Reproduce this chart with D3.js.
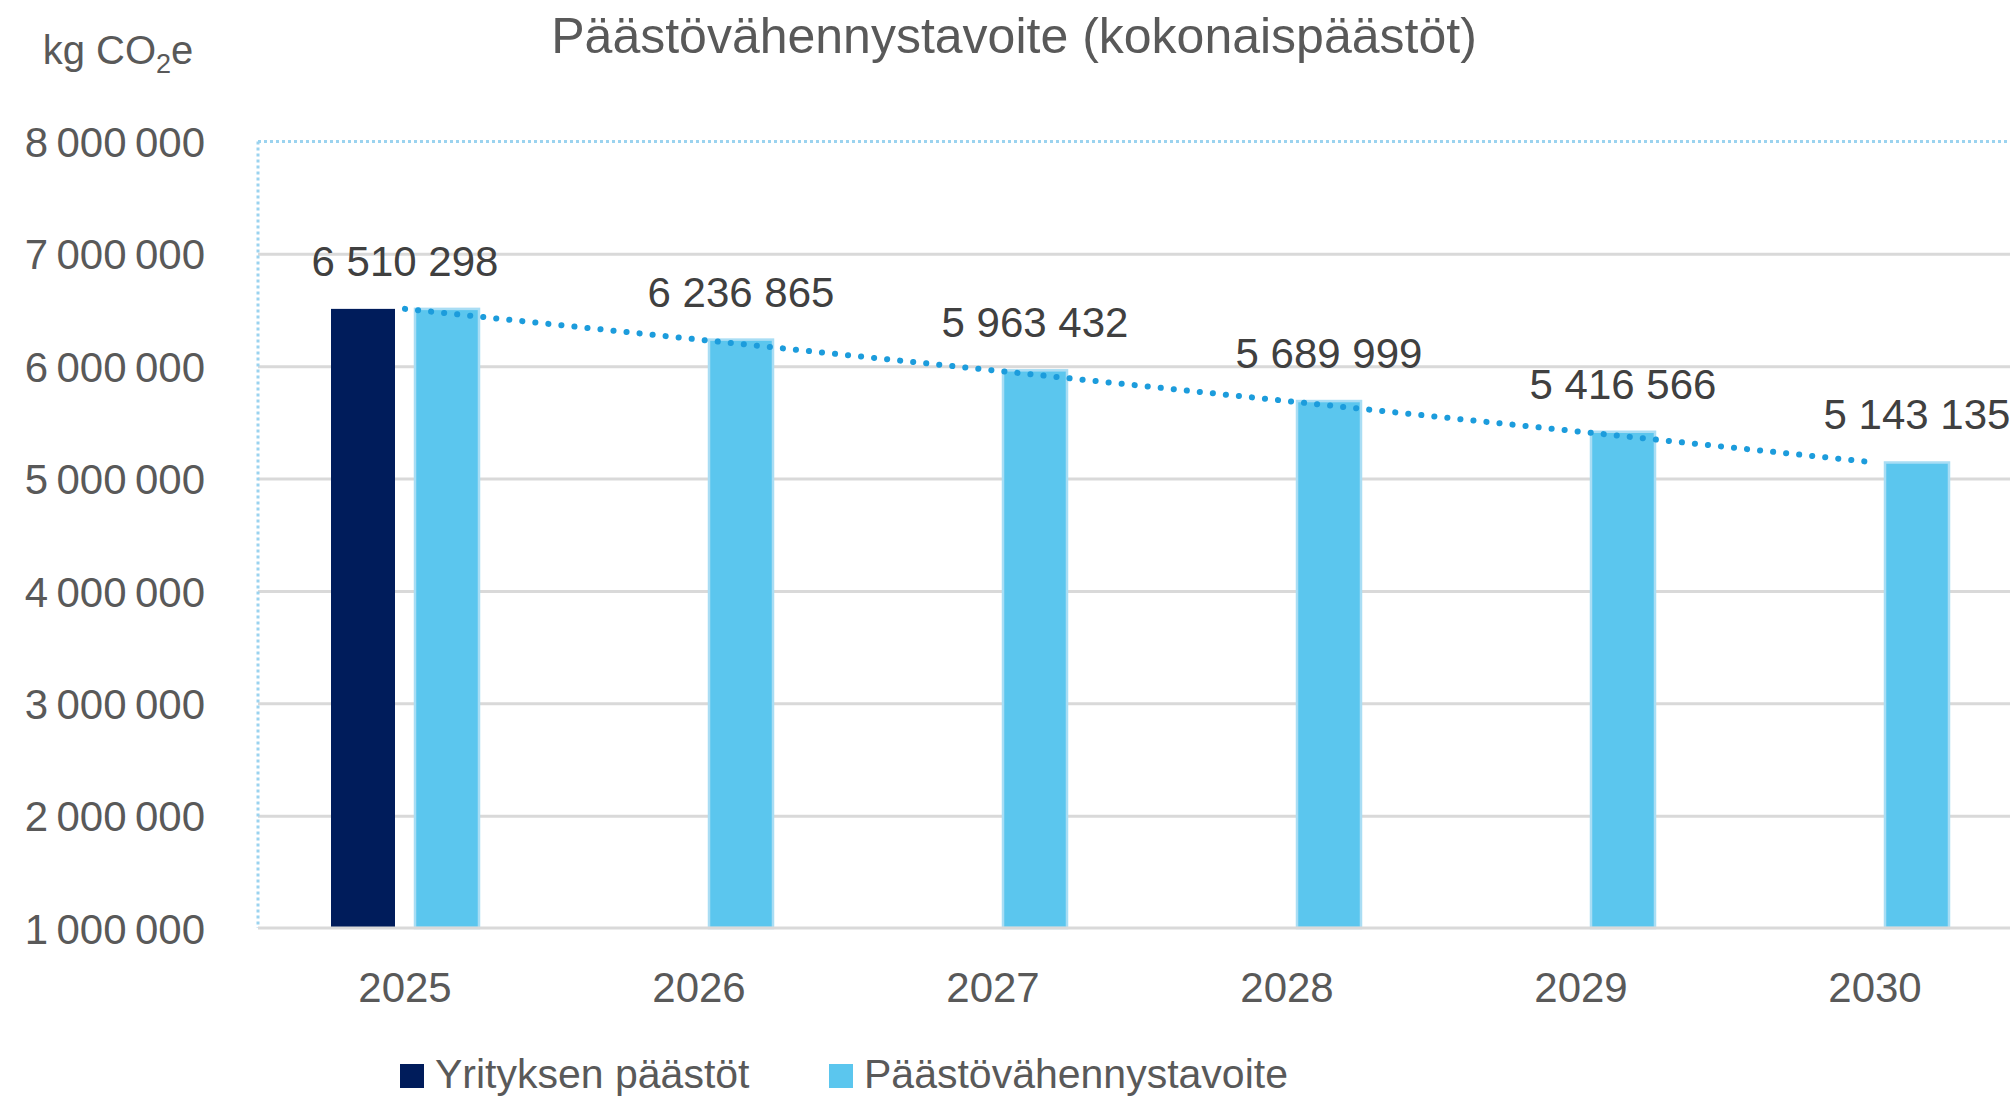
<!DOCTYPE html>
<html>
<head>
<meta charset="utf-8">
<script src="https://cdn.jsdelivr.net/npm/d3@7"></script>
<style>
  html, body { margin: 0; padding: 0; background: #ffffff; }
  svg { display: block; }
  text { font-family: "Liberation Sans", Arial, sans-serif; }
</style>
</head>
<body>
<svg id="chart" width="2010" height="1098"></svg>
<script>
// ---- data ----
const categories = ["2025", "2026", "2027", "2028", "2029", "2030"];
const companyEmissions = [6510298, null, null, null, null, null];
const reductionTarget = [6510298, 6236865, 5963432, 5689999, 5416566, 5143135];
const yTicks = [1000000, 2000000, 3000000, 4000000, 5000000, 6000000, 7000000, 8000000];
const seriesNames = ["Yrityksen päästöt", "Päästövähennystavoite"];
const titleText = "Päästövähennystavoite (kokonaispäästöt)";

// ---- layout ----
const W = 2010, H = 1098;
const plot = { left: 258, right: 2022, top: 141.5, bottom: 928 };
const colors = { dark: "#001C5B", light: "#5BC6EE", lightEdge: "#A9DDF4", trend: "#1C9CDC",
                 grid: "#D9D9D9", axisText: "#595959", labelText: "#404040", border: "#9BD3EF" };

const svg = d3.select("#chart");
const fiLocale = d3.formatLocale({ decimal: ",", thousands: "\u00a0", grouping: [3], currency: ["", " €"] });
const fmt = fiLocale.format(",d");
const fmtAxis = d3.formatLocale({ decimal: ",", thousands: "\u2009", grouping: [3], currency: ["", " €"] }).format(",d");

const x = d3.scaleBand().domain(categories).range([plot.left, plot.right]).paddingInner(0).paddingOuter(0);
const groupWidth = 148;
const xs = d3.scaleBand().domain(seriesNames).range([-groupWidth / 2, groupWidth / 2]).paddingInner(20 / 84).paddingOuter(0);
const y = d3.scaleLinear().domain([1000000, 8000000]).range([plot.bottom, plot.top]);

// gridlines
const yAxisGrid = d3.axisLeft(y).tickValues(yTicks.filter(v => v > 1000000 && v < 8000000))
  .tickSize(-(plot.right - plot.left)).tickFormat("");
const gGrid = svg.append("g").attr("transform", `translate(${plot.left},0)`).call(yAxisGrid);
gGrid.select(".domain").remove();
gGrid.selectAll("line").attr("stroke", colors.grid).attr("stroke-width", 3);

// plot-area dotted border (top + left)
svg.append("line").attr("x1", plot.left).attr("x2", plot.right).attr("y1", plot.top).attr("y2", plot.top)
  .attr("stroke", colors.border).attr("stroke-width", 3).attr("stroke-dasharray", "3 3");
svg.append("line").attr("x1", plot.left).attr("x2", plot.left).attr("y1", plot.top).attr("y2", plot.bottom)
  .attr("stroke", colors.border).attr("stroke-width", 3).attr("stroke-dasharray", "3 3");

// y axis labels
const yAxis = d3.axisLeft(y).tickValues(yTicks).tickSize(0).tickPadding(0).tickFormat(fmtAxis);
const gY = svg.append("g").attr("transform", `translate(205,0)`).call(yAxis);
gY.select(".domain").remove();
gY.selectAll("text").attr("fill", colors.axisText).style("font-size", "42px")
  .style("font-family", "'Liberation Sans', Arial, sans-serif").attr("dy", "0.36em");

// bars
const barData = [];
categories.forEach((c, i) => {
  if (companyEmissions[i] != null) barData.push({ cat: c, s: seriesNames[0], v: companyEmissions[i] });
  if (reductionTarget[i] != null) barData.push({ cat: c, s: seriesNames[1], v: reductionTarget[i] });
});
svg.append("g").selectAll("rect").data(barData).join("rect")
  .attr("x", d => x(d.cat) + x.bandwidth() / 2 + xs(d.s))
  .attr("width", xs.bandwidth())
  .attr("y", d => y(d.v))
  .attr("height", d => y(1000000) - y(d.v))
  .attr("fill", d => d.s === seriesNames[0] ? colors.dark : colors.light)
  .attr("stroke", d => d.s === seriesNames[0] ? "none" : colors.lightEdge)
  .attr("stroke-width", 2.5);

// x axis line
svg.append("line").attr("x1", plot.left).attr("x2", plot.right).attr("y1", plot.bottom).attr("y2", plot.bottom)
  .attr("stroke", colors.grid).attr("stroke-width", 3);

// trend line (dotted)
const line = d3.line().x((d, i) => x(categories[i]) + x.bandwidth() / 2).y(d => y(d));
svg.append("path").datum(reductionTarget).attr("d", line)
  .attr("fill", "none").attr("stroke", colors.trend).attr("stroke-width", 6)
  .attr("stroke-linecap", "round").attr("stroke-dasharray", "0.1 13");

// data labels
svg.append("g").selectAll("text").data(reductionTarget).join("text")
  .attr("x", (d, i) => i === 0 ? x(categories[i]) + x.bandwidth() / 2
                               : x(categories[i]) + x.bandwidth() / 2 + xs(seriesNames[1]) + xs.bandwidth() / 2)
  .attr("y", d => y(d) - 33)
  .attr("text-anchor", "middle").attr("fill", colors.labelText).style("font-size", "42px")
  .text(d => fmt(d));

// x axis labels
const xAxis = d3.axisBottom(x).tickSize(0).tickPadding(0);
const gX = svg.append("g").attr("transform", `translate(0,1002)`).call(xAxis);
gX.select(".domain").remove();
gX.selectAll("text").attr("fill", colors.axisText).attr("dy", 0).style("font-size", "42px")
  .style("font-family", "'Liberation Sans', Arial, sans-serif");

// title
svg.append("text").attr("x", 1014).attr("y", 53).attr("text-anchor", "middle")
  .attr("fill", colors.axisText).style("font-size", "50px").text(titleText);

// unit label
const unit = svg.append("text").attr("x", 118).attr("y", 64).attr("text-anchor", "middle")
  .attr("fill", colors.axisText).style("font-size", "40px");
unit.append("tspan").text("kg CO");
unit.append("tspan").attr("dy", 9).style("font-size", "27px").text("2");
unit.append("tspan").attr("dy", -9).text("e");

// legend
const legendPos = [400, 829];
const lg = svg.append("g").selectAll("g").data(seriesNames).join("g")
  .attr("transform", (d, i) => `translate(${legendPos[i]},1064)`);
lg.append("rect").attr("width", 24).attr("height", 24)
  .attr("fill", (d, i) => i === 0 ? colors.dark : colors.light);
lg.append("text").attr("x", 35).attr("y", 24).attr("fill", colors.axisText)
  .style("font-size", "41px").text(d => d);
</script>
</body>
</html>
